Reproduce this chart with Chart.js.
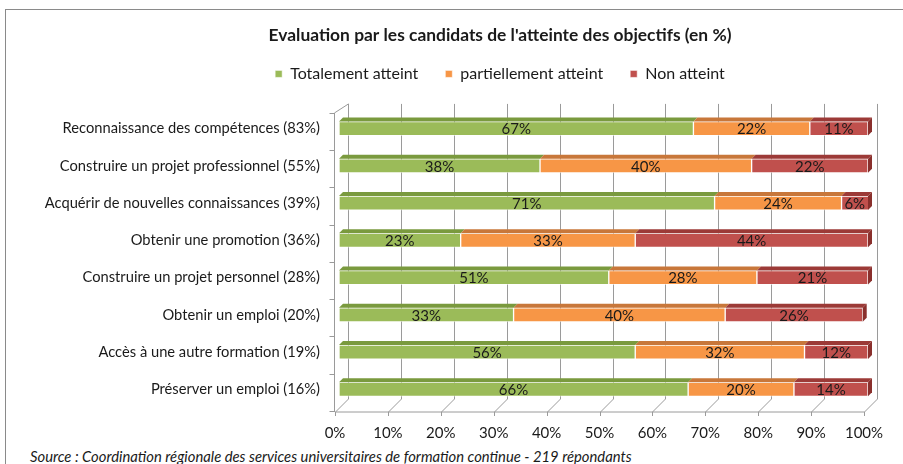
<!DOCTYPE html>
<html>
<head>
<meta charset="utf-8">
<script src="https://cdn.jsdelivr.net/npm/chart.js@4.4.1/dist/chart.umd.min.js"></script>
<style>
  html, body { margin: 0; padding: 0; background: #fff; overflow: hidden; width: 903px; height: 464px; }
  #frame { position: absolute; left: 5px; top: 9px; width: 1000px; height: 600px; border: 1px solid #8a8a8a; }
  #wrap { position: absolute; left: 0; top: 0; width: 1000px; height: 444px; }
  #source { position: absolute; left: 30px; top: 447px; font: italic 14.8px Lato, sans-serif; color: #1a1a1a; white-space: nowrap; }
</style>
</head>
<body>
<div id="frame"></div>
<div id="wrap"><canvas id="chart" width="1000" height="444"></canvas></div>
<div id="source">Source : Coordination régionale des services universitaires de formation continue - 219 répondants</div>
<script>
const categories = [
  'Reconnaissance des compétences (83%)',
  'Construire un projet professionnel (55%)',
  'Acquérir de nouvelles connaissances (39%)',
  'Obtenir une promotion (36%)',
  'Construire un projet personnel (28%)',
  'Obtenir un emploi (20%)',
  'Accès à une autre formation (19%)',
  'Préserver un emploi (16%)'
]
const seriesNames = ['Totalement atteint', 'partiellement atteint', 'Non atteint']
const totalement = [67, 38, 71, 23, 51, 33, 56, 66]
const partiellement = [22, 40, 24, 33, 28, 40, 32, 20]
const nonAtteint = [11, 22, 6, 44, 21, 26, 12, 14]
const xTicks = [0, 10, 20, 30, 40, 50, 60, 70, 80, 90, 100]

const fontes = 'Lato, sans-serif'
const letterColor = '#1a1a1a'
const gridColor = '#9a9a9a'
const faces = ['#9bbb59', '#f79646', '#c0504d']
const tops = ['#7a9a3e', '#c8773a', '#9c3a37']
const sideColor = '#8a302d'

Chart.defaults.font.family = fontes
Chart.defaults.color = letterColor

function line(ctx, x1, y1, x2, y2) {
  ctx.beginPath()
  ctx.moveTo(x1, y1)
  ctx.lineTo(x2, y2)
  ctx.stroke()
}

// fausse perspective facon Excel 3D
const fake3d = {
  id: 'fake3d',
  beforeInit(chart) {
    const fit = chart.legend.fit
    chart.legend.fit = function () {
      fit.call(this)
      this.height = 71
    }
  },
  beforeDatasetsDraw(chart) {
    const { ctx, chartArea: a, scales: { x } } = chart
    ctx.save()
    ctx.strokeStyle = gridColor
    ctx.lineWidth = 1
    xTicks.forEach(v => {
      const px = Math.round(x.getPixelForValue(v)) + 0.5
      line(ctx, px + 9, a.top - 6, px + 9, a.bottom - 9)
      line(ctx, px + 9, a.bottom - 9, px - 4, a.bottom + 4)
      line(ctx, px - 4, a.bottom + 4, px - 4, a.bottom + 8)
    })
    const l = Math.round(x.getPixelForValue(0)) + 0.5
    const r = Math.round(x.getPixelForValue(100)) + 0.5
    line(ctx, l - 4, a.bottom + 4, r - 4, a.bottom + 4)
    line(ctx, l - 5, a.top + 3, l - 5, a.bottom + 4)
    line(ctx, l - 5, a.top + 3, l + 9, a.top - 6)
    const band = (a.bottom - a.top) / categories.length
    for (let k = 0; k <= categories.length; k++) {
      const py = Math.round(a.top + 3 + k * band) + 0.5
      line(ctx, l - 10, py, l - 5, py)
    }
    ctx.restore()
  },
  afterDatasetsDraw(chart) {
    const { ctx, chartArea: a } = chart
    const dx = 4, dy = 4
    ctx.save()
    chart.data.datasets.forEach((ds, i) => {
      const meta = chart.getDatasetMeta(i)
      meta.data.forEach((bar, j) => {
        const x0 = bar.base
        const x1 = Math.min(bar.x, a.right)
        const y0 = bar.y - bar.height / 2
        const h = bar.height
        ctx.fillStyle = tops[i]
        ctx.beginPath()
        ctx.moveTo(x0, y0)
        ctx.lineTo(x1, y0)
        ctx.lineTo(x1 + dx, y0 - dy)
        ctx.lineTo(x0 + dx, y0 - dy)
        ctx.closePath()
        ctx.fill()
        if (i === chart.data.datasets.length - 1) {
          ctx.fillStyle = sideColor
          ctx.beginPath()
          ctx.moveTo(x1, y0)
          ctx.lineTo(x1 + dx, y0 - dy)
          ctx.lineTo(x1 + dx, y0 + h - dy)
          ctx.lineTo(x1, y0 + h)
          ctx.closePath()
          ctx.fill()
        }
        ctx.fillStyle = letterColor
        ctx.font = '15px ' + fontes
        ctx.textAlign = 'center'
        ctx.textBaseline = 'middle'
        ctx.fillText(ds.data[j] + '%', (x0 + x1) / 2, bar.y + 1)
      })
    })
    ctx.restore()
  }
}

new Chart(document.getElementById('chart'), {
  type: 'bar',
  data: {
    labels: categories,
    datasets: [
      { label: seriesNames[0], data: totalement, backgroundColor: faces[0] },
      { label: seriesNames[1], data: partiellement, backgroundColor: faces[1] },
      { label: seriesNames[2], data: nonAtteint, backgroundColor: faces[2] }
    ]
  },
  options: {
    responsive: false,
    animation: false,
    indexAxis: 'y',
    layout: { padding: 0 },
    datasets: {
      bar: { barThickness: 14, borderWidth: 1, borderColor: 'rgba(255,255,255,0.55)', borderSkipped: false }
    },
    scales: {
      x: {
        stacked: true,
        min: 0,
        max: 100,
        afterBuildTicks: s => { s.ticks = xTicks.map(v => ({ value: v })) },
        ticks: { callback: v => v + '%', padding: 16, labelOffset: -4, maxRotation: 0, font: { size: 15 } },
        grid: { display: false, drawTicks: false },
        border: { display: false },
        afterFit: s => { s.height = 36 }
      },
      y: {
        stacked: true,
        ticks: { padding: 19, font: { size: 14.7 } },
        grid: { display: false, drawTicks: false },
        border: { display: false },
        afterFit: s => { s.width = 339 }
      },
      yR: {
        axis: 'y',
        type: 'linear',
        position: 'right',
        ticks: { display: false },
        grid: { display: false, drawTicks: false },
        border: { display: false },
        afterFit: s => { s.width = 1000 - 868 }
      }
    },
    plugins: {
      title: {
        display: true,
        text: "Evaluation par les candidats de l'atteinte des objectifs (en %)",
        color: letterColor,
        font: { size: 17.4, weight: 'bold', lineHeight: 0.8 },
        padding: { top: 28, bottom: -3 }
      },
      legend: {
        labels: { usePointStyle: true, pointStyle: 'rect', boxWidth: 7, boxHeight: 7, padding: 27, font: { size: 16 }, color: letterColor }
      },
      tooltip: { enabled: false }
    }
  },
  plugins: [fake3d]
})
</script>
</body>
</html>
